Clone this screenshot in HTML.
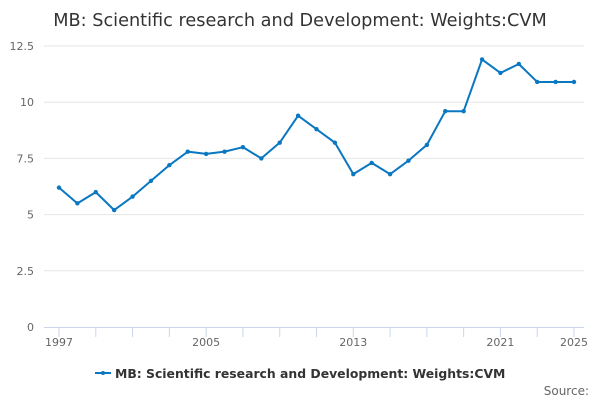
<!DOCTYPE html>
<html><head><meta charset="utf-8"><style>
body{margin:0;background:#fff;font-family:"Liberation Sans","DejaVu Sans",sans-serif}
</style></head><body>
<svg id="chart" width="600" height="400" font-family="DejaVu Sans, Liberation Sans, sans-serif">
<text x="300" y="26" text-anchor="middle" font-size="17.7" fill="#333">MB: Scientific research and Development: Weights:CVM</text>
<g id="grid"></g><g id="xaxis"></g><g id="series"></g>
<g>
<line x1="95" y1="373" x2="111" y2="373" stroke="#0a77c2" stroke-width="2"/>
<circle cx="103" cy="373" r="2" fill="#0a77c2"/>
<text x="115" y="378" font-size="12.4" font-weight="bold" fill="#333">MB: Scientific research and Development: Weights:CVM</text>
</g>
<text x="589" y="395" text-anchor="end" font-size="12" fill="#666">Source:</text>
</svg>
<script>
const years=[1997,1998,1999,2000,2001,2002,2003,2004,2005,2006,2007,2008,2009,2010,2011,2012,2013,2014,2015,2016,2017,2018,2019,2020,2021,2022,2023,2024,2025];
const values=[6.2,5.5,6.0,5.2,5.8,6.5,7.2,7.8,7.7,7.8,8.0,7.5,8.2,9.4,8.8,8.2,6.8,7.3,6.8,7.4,8.1,9.6,9.6,11.9,11.3,11.7,10.9,10.9,10.9];
const yTicks=[0,2.5,5,7.5,10,12.5];
const yTickLabels=["0","2.5","5","7.5","10","12.5"];
const xLabels=[1997,2005,2013,2021,2025];
const NS="http://www.w3.org/2000/svg";
const x=v=>59+(v-1997)*(574-59)/28;
const y=v=>327-v*(327-46)/12.5;
function mk(t,a,p){const e=document.createElementNS(NS,t);for(const k in a)e.setAttribute(k,a[k]);p.appendChild(e);return e;}
const grid=document.getElementById('grid');
yTicks.forEach((t,i)=>{
  if(t>0){const l=mk('line',{x1:44,x2:584,y1:y(t),y2:y(t),stroke:'#e6e6e6'},grid);
  
  }
  const tx=mk('text',{x:34,y:y(t)+4,'text-anchor':'end','font-size':11,fill:'#666'},grid);
  tx.textContent=yTickLabels[i];
  
  
});
const xa=document.getElementById('xaxis');
const al=mk('line',{x1:44,x2:584,y1:327.5,y2:327.5,stroke:'#ccd6eb'},xa);


for(let yr=1997;yr<=2025;yr+=2){
  const tk=mk('line',{x1:x(yr),x2:x(yr),y1:327,y2:337,stroke:'#ccd6eb'},xa);
  
  
}
xLabels.forEach(yr=>{
  const t=mk('text',{x:x(yr),y:346,'text-anchor':'middle','font-size':11,fill:'#666'},xa);
  t.textContent=yr;
  
  
});
const s=document.getElementById('series');
const pl=mk('polyline',{points:years.map((yr,i)=>x(yr)+','+y(values[i])).join(' '),fill:'none',stroke:'#0a77c2','stroke-width':2,'stroke-linejoin':'round'},s);


years.forEach((yr,i)=>{
  const c=mk('circle',{cx:x(yr),cy:y(values[i]),r:2.2,fill:'#0a77c2'},s);
  
  
});
</script>
</body></html>
